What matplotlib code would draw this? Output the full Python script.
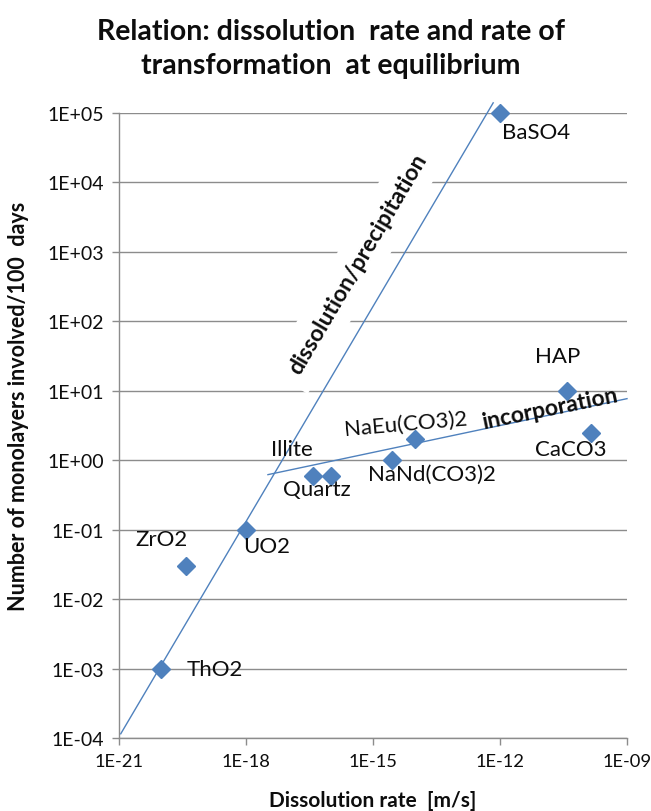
import matplotlib
matplotlib.use("Agg")
import matplotlib.pyplot as plt
from matplotlib.ticker import FixedLocator, NullLocator

# ---- data ----
names = ["ThO2", "ZrO2", "UO2", "Illite", "Quartz", "NaNd(CO3)2",
         "NaEu(CO3)2", "BaSO4", "HAP", "CaCO3"]
rate = [1e-20, 3.8e-20, 1e-18, 3.8e-17, 1e-16, 2.8e-15,
        1e-14, 1e-12, 3.8e-11, 1.4e-10]
monolayers = [1e-3, 0.03, 0.1, 0.6, 0.6, 1.0, 2.0, 1e5, 10, 2.5]

diss_x = [1.1e-21, 6.9e-13]
diss_y = [1.15e-4, 1.4e5]
inc_x = [3.3e-18, 1e-9]
inc_y = [0.62, 7.7]

xticks = [1e-21, 1e-18, 1e-15, 1e-12, 1e-9]
xticklabels = ["1E-21", "1E-18", "1E-15", "1E-12", "1E-09"]
yticks = [1e-4, 1e-3, 1e-2, 1e-1, 1e0, 1e1, 1e2, 1e3, 1e4, 1e5]
yticklabels = ["1E-04", "1E-03", "1E-02", "1E-01", "1E+00",
               "1E+01", "1E+02", "1E+03", "1E+04", "1E+05"]

title = "Relation: dissolution  rate and rate of\ntransformation  at equilibrium"
xlabel = "Dissolution rate  [m/s]"
ylabel = "Number of monolayers involved/100  days"

# label offsets in pixels (dx right, dy up), ha, va, rotation
label_style = {
    "ThO2": (25, 0, "left", "center", 0),
    "ZrO2": (-50, 27, "left", "center", 0),
    "UO2": (-3, -16, "left", "center", 0),
    "Illite": (-42, 27, "left", "center", 0),
    "Quartz": (-48, -13, "left", "center", 0),
    "NaNd(CO3)2": (-24, -14, "left", "center", 0),
    "NaEu(CO3)2": (-10, 16, "center", "center", 5),
    "BaSO4": (2, -19, "left", "center", 0),
    "HAP": (-32, 35, "left", "center", 0),
    "CaCO3": (-56, -16, "left", "center", 0),
}

plt.rcParams["font.family"] = ["Lato", "DejaVu Sans"]
W, H, DPI = 651, 812, 100
fig = plt.figure(figsize=(W / DPI, H / DPI), dpi=DPI)
ax = fig.add_axes([119 / W, 1 - 739 / H, (627 - 119) / W, (739 - 114) / H])
ax.set_xscale("log")
ax.set_yscale("log")
ax.set_xlim(1e-21, 1e-9)
ax.set_ylim(1e-4, 1e5)

grey = "#8c8c8c"
txt = "#0d0d0d"
ax.xaxis.set_major_locator(FixedLocator(xticks))
ax.xaxis.set_minor_locator(NullLocator())
ax.set_xticklabels(xticklabels)
ax.yaxis.set_major_locator(FixedLocator(yticks))
ax.yaxis.set_minor_locator(NullLocator())
ax.set_yticklabels(yticklabels)
ax.tick_params(axis="both", direction="out", length=5, width=1, color=grey,
               labelsize=14, labelcolor=txt, pad=6)
ax.tick_params(axis="x", labelsize=13.2)
ax.grid(axis="y", color=grey, linewidth=1)
ax.set_axisbelow(True)
for s in ["top", "right"]:
    ax.spines[s].set_visible(False)
for s in ["left", "bottom"]:
    ax.spines[s].set_color(grey)
    ax.spines[s].set_linewidth(1)

blue = "#4F81BD"
ax.plot(diss_x, diss_y, color=blue, linewidth=1, clip_on=False, zorder=5)
ax.plot(inc_x, inc_y, color=blue, linewidth=1, clip_on=False, zorder=5)
ax.plot(rate, monolayers, linestyle="none", marker="D", markersize=9,
        color=blue, markeredgecolor=blue, zorder=6, clip_on=False)

for n, xv, yv in zip(names, rate, monolayers):
    dx, dy, ha, va, rot = label_style[n]
    ax.annotate(n, (xv, yv), xytext=(dx, dy), textcoords="offset pixels",
                ha=ha, va=va, rotation=rot, fontsize=16, color=txt,
                zorder=7)

# line captions
ax.text(358 / W, 1 - 264 / H, "dissolution/precipitation", transform=fig.transFigure,
        rotation=59.5, rotation_mode="anchor", ha="center", va="center",
        fontsize=16.5, fontweight="bold", color=txt, zorder=3,
        bbox=dict(facecolor="white", edgecolor="none", pad=9))
ax.text(550 / W, 1 - 409 / H, "incorporation", transform=fig.transFigure,
        rotation=11.5, rotation_mode="anchor", ha="center", va="center",
        fontsize=16.5, fontweight="bold", color=txt, zorder=7)

fig.text(331 / W, 1 - 49 / H, title, ha="center", va="center", fontsize=20.5,
         fontweight="bold", linespacing=1.4, color=txt)
fig.text(373 / W, 1 - 801 / H, xlabel, ha="center", va="center", fontsize=15,
         fontweight="bold", color=txt)
fig.text(19 / W, 1 - 406 / H, ylabel, ha="center", va="center", fontsize=15.5,
         fontweight="bold", rotation=90, color=txt)

fig.savefig("out.png", dpi=DPI)
